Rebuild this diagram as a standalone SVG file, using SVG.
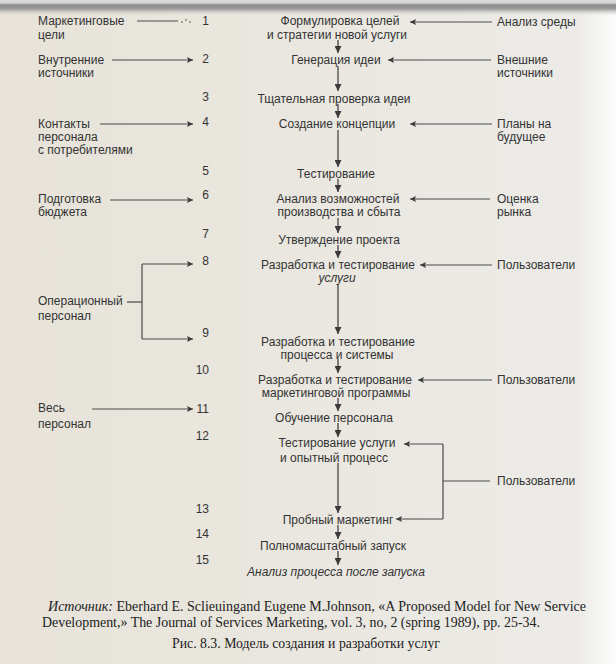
<svg xmlns="http://www.w3.org/2000/svg" width="616" height="664" viewBox="0 0 616 664">
<defs>
<linearGradient id="bg" x1="0" y1="0" x2="1" y2="0">
<stop offset="0" stop-color="#e7e3d9"/>
<stop offset="0.5" stop-color="#eae7e0"/>
<stop offset="0.94" stop-color="#ecebe7"/>
<stop offset="0.985" stop-color="#f8f8f7"/>
<stop offset="1" stop-color="#fbfbfb"/>
</linearGradient>
<linearGradient id="top" x1="0" y1="0" x2="0" y2="1">
<stop offset="0" stop-color="#dcdcdc"/>
<stop offset="0.2" stop-color="#d0d0d0"/>
<stop offset="0.3" stop-color="#8e8e8e"/>
<stop offset="0.55" stop-color="#9a9a9a"/>
<stop offset="1" stop-color="#e6e3dc" stop-opacity="0"/>
</linearGradient>
<marker id="ad" viewBox="0 0 10 10" refX="10" refY="5" markerWidth="9" markerHeight="7" markerUnits="userSpaceOnUse" orient="auto">
<path d="M0,0 L10,5 L0,10 Z" fill="#3a3a3a"/>
</marker>
<marker id="ah" viewBox="0 0 10 10" refX="10" refY="5" markerWidth="12" markerHeight="6" markerUnits="userSpaceOnUse" orient="auto">
<path d="M0,0 L10,5 L0,10 L2,5 Z" fill="#3a3a3a"/>
</marker>
<style>
text{font-family:"Liberation Sans",Arial,sans-serif;font-size:12px;fill:#333}
.c{text-anchor:middle}
.n{text-anchor:end}
.i{font-style:italic}
.cap{font-family:"Liberation Serif","Times New Roman",serif;font-size:14.5px;fill:#222}
.ln{stroke:#4a4a4a;stroke-width:1.2;fill:none}
.dn{stroke:#3a3a3a;stroke-width:1.2;fill:none;marker-end:url(#ad)}
.hz{stroke:#4a4a4a;stroke-width:1.2;fill:none;marker-end:url(#ah)}
</style>
</defs>
<rect x="0" y="0" width="616" height="664" fill="url(#bg)"/>
<rect x="0" y="0" width="616" height="16" fill="url(#top)"/>

<g id="connectors">
<line class="dn" x1="338" y1="40" x2="338" y2="53"/>
<line class="dn" x1="338" y1="66" x2="338" y2="91"/>
<line class="dn" x1="338" y1="104" x2="338" y2="118"/>
<line class="dn" x1="338" y1="130" x2="338" y2="167"/>
<line class="dn" x1="338" y1="179" x2="338" y2="192"/>
<line class="dn" x1="338" y1="218" x2="338" y2="233"/>
<line class="dn" x1="338" y1="245" x2="338" y2="258"/>
<line class="dn" x1="338" y1="284" x2="338" y2="334"/>
<line class="dn" x1="338" y1="359" x2="338" y2="373"/>
<line class="dn" x1="338" y1="398" x2="338" y2="411"/>
<line class="dn" x1="338" y1="423" x2="338" y2="437"/>
<line class="dn" x1="338" y1="463" x2="338" y2="513"/>
<line class="dn" x1="338" y1="525" x2="338" y2="539"/>
<line class="dn" x1="338" y1="551" x2="338" y2="565"/>
<line class="hz" x1="492" y1="22" x2="410" y2="22"/>
<line class="hz" x1="491" y1="60" x2="388" y2="60"/>
<line class="hz" x1="492" y1="124" x2="410" y2="124"/>
<line class="hz" x1="490" y1="199" x2="410" y2="199"/>
<line class="hz" x1="492" y1="265" x2="420" y2="265"/>
<line class="hz" x1="492" y1="380" x2="418" y2="380"/>
<line class="ln" x1="443" y1="444" x2="443" y2="519"/>
<line class="hz" x1="443" y1="444" x2="404" y2="444"/>
<line class="hz" x1="443" y1="519" x2="396" y2="519"/>
<line class="ln" x1="443" y1="481" x2="490" y2="481"/>
<line class="ln" x1="137" y1="21" x2="178" y2="21"/>
<circle cx="182" cy="22" r="0.8" fill="#444"/>
<circle cx="186" cy="20" r="0.8" fill="#444"/>
<circle cx="190" cy="22" r="0.8" fill="#444"/>
<line class="hz" x1="112" y1="60" x2="193" y2="60"/>
<line class="hz" x1="100" y1="124" x2="193" y2="124"/>
<line class="hz" x1="110" y1="200" x2="193" y2="200"/>
<line class="hz" x1="142" y1="264" x2="193" y2="264"/>
<line class="ln" x1="142" y1="264" x2="142" y2="339"/>
<line class="hz" x1="142" y1="339" x2="193" y2="339"/>
<line class="ln" x1="127" y1="302" x2="142" y2="302"/>
<line class="hz" x1="92" y1="409" x2="193" y2="409"/>
</g>

<g id="numbers">
<text class="n" x="209" y="25">1</text>
<text class="n" x="209" y="63">2</text>
<text class="n" x="209" y="101">3</text>
<text class="n" x="209" y="126">4</text>
<text class="n" x="209" y="175">5</text>
<text class="n" x="209" y="199">6</text>
<text class="n" x="209" y="238">7</text>
<text class="n" x="209" y="265">8</text>
<text class="n" x="209" y="337">9</text>
<text class="n" x="209" y="374">10</text>
<text class="n" x="209" y="413">11</text>
<text class="n" x="209" y="440">12</text>
<text class="n" x="209" y="513">13</text>
<text class="n" x="209" y="538">14</text>
<text class="n" x="209" y="564">15</text>
</g>

<g id="s1"><text class="c" x="340" y="25">Формулировка целей</text><text class="c" x="337" y="39">и стратегии новой услуги</text></g>
<g id="s2"><text class="c" x="336" y="64">Генерация идеи</text></g>
<g id="s3"><text class="c" x="334" y="103">Тщательная проверка идеи</text></g>
<g id="s4"><text class="c" x="337" y="128">Создание концепции</text></g>
<g id="s5"><text class="c" x="336" y="178">Тестирование</text></g>
<g id="s6"><text class="c" x="338" y="203">Анализ возможностей</text><text class="c" x="339" y="216">производства и сбыта</text></g>
<g id="s7"><text class="c" x="339" y="244">Утверждение проекта</text></g>
<g id="s8"><text class="c" x="338" y="269">Разработка и тестирование</text><text class="c i" x="337" y="282">услуги</text></g>
<g id="s9"><text class="c" x="338" y="346">Разработка и тестирование</text><text class="c" x="337" y="359">процесса и системы</text></g>
<g id="s10"><text class="c" x="335" y="384">Разработка и тестирование</text><text class="c" x="336" y="397">маркетинговой программы</text></g>
<g id="s11"><text class="c" x="334" y="422">Обучение персонала</text></g>
<g id="s12"><text class="c" x="337" y="447">Тестирование услуги</text><text class="c" x="334" y="462">и опытный процесс</text></g>
<g id="s13"><text class="c" x="338" y="524">Пробный маркетинг</text></g>
<g id="s14"><text class="c" x="333" y="550">Полномасштабный запуск</text></g>
<g id="s15"><text class="c i" x="336" y="576">Анализ процесса после запуска</text></g>

<g id="l1"><text x="38" y="25">Маркетинговые</text><text x="38" y="39">цели</text></g>
<g id="l2"><text x="38" y="64">Внутренние</text><text x="38" y="77">источники</text></g>
<g id="l4"><text x="38" y="128">Контакты</text><text x="38" y="141">персонала</text><text x="38" y="154">с потребителями</text></g>
<g id="l6"><text x="38" y="203">Подготовка</text><text x="38" y="216">бюджета</text></g>
<g id="l89"><text x="38" y="305">Операционный</text><text x="38" y="320">персонал</text></g>
<g id="l11"><text x="38" y="412">Весь</text><text x="38" y="428">персонал</text></g>

<g id="r1"><text x="497" y="26">Анализ среды</text></g>
<g id="r2"><text x="497" y="64">Внешние</text><text x="497" y="77">источники</text></g>
<g id="r4"><text x="497" y="128">Планы на</text><text x="497" y="141">будущее</text></g>
<g id="r6"><text x="497" y="203">Оценка</text><text x="497" y="216">рынка</text></g>
<g id="r8"><text x="497" y="269">Пользователи</text></g>
<g id="r10"><text x="497" y="384">Пользователи</text></g>
<g id="r12"><text x="497" y="485">Пользователи</text></g>

<g id="caption">
<text class="cap" x="48" y="611" textLength="538" lengthAdjust="spacingAndGlyphs"><tspan font-style="italic">Источник:</tspan> Eberhard E. Sclieuingand Eugene M.Johnson, «A Proposed Model for New Service</text>
<text class="cap" x="42" y="627" textLength="498" lengthAdjust="spacingAndGlyphs">Development,» The Journal of Services Marketing, vol. 3, no, 2 (spring 1989), pp. 25-34.</text>
<text class="cap" x="172" y="648" textLength="268" lengthAdjust="spacingAndGlyphs">Рис. 8.3. Модель создания и разработки услуг</text>
</g>
</svg>
